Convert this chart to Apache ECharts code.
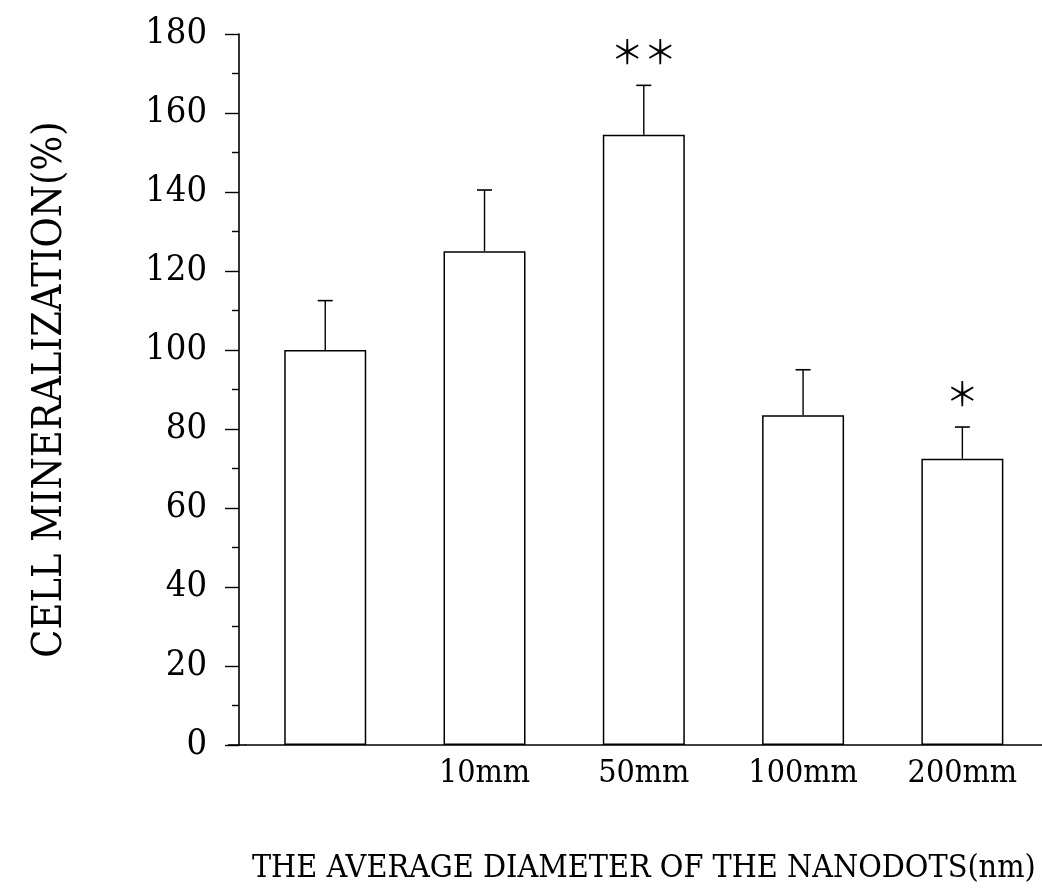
<!DOCTYPE html>
<html><head><meta charset="utf-8">
<script src="https://cdn.jsdelivr.net/npm/echarts@6/dist/echarts.min.js"></script>
<style>html,body{margin:0;padding:0;background:#fff}#c{width:1042px;height:895px}</style>
</head><body><div id="c"></div>
<script>
var categories = ['', '10mm', '50mm', '100mm', '200mm'];
var means = [100, 125, 154.5, 83.5, 72.5];
var sds = [12.5, 15.5, 12.5, 11.5, 8];
var sig = ['', '', '**', '', '*'];
var yTicks = [0, 20, 40, 60, 80, 100, 120, 140, 160, 180];

var FONT = '"DejaVu Serif Condensed", "DejaVu Serif", serif';
var chart = echarts.init(document.getElementById('c'), null, {renderer: 'canvas'});
var errData = means.map(function (m, i) { return [i, m, m + sds[i], sig[i]]; });

chart.setOption({
  animation: false,
  backgroundColor: '#fff',
  grid: {left: 245.6, top: 34, width: 804, bottom: 150},
  xAxis: {
    type: 'category', data: categories,
    axisLine: {lineStyle: {color: '#000', width: 1.6}},
    axisTick: {show: false},
    axisLabel: {color: '#000', fontFamily: FONT, fontSize: 32, margin: 13},
    name: 'THE AVERAGE DIAMETER OF THE NANODOTS(nm)',
    nameLocation: 'middle', nameGap: 108,
    nameTextStyle: {color: '#000', fontFamily: FONT, fontSize: 32}
  },
  yAxis: {
    type: 'value', min: yTicks[0], max: yTicks[yTicks.length - 1], interval: 20,
    offset: 6.6,
    axisLine: {show: true, lineStyle: {color: '#000', width: 1.6}},
    axisTick: {show: true, length: 14, lineStyle: {color: '#000', width: 1.4}},
    minorTick: {show: true, splitNumber: 2, length: 7, lineStyle: {color: '#000', width: 1.4}},
    splitLine: {show: false},
    axisLabel: {color: '#000', fontFamily: FONT, fontSize: 36, margin: 32},
    name: 'CELL MINERALIZATION(%)',
    nameLocation: 'middle', nameGap: 168,
    nameTextStyle: {color: '#000', fontFamily: FONT, fontSize: 41}
  },
  graphic: [{type: 'line', shape: {x1: 228, y1: 745, x2: 246, y2: 745}, style: {stroke: '#000', lineWidth: 1.6}}],
  series: [{
    type: 'bar', data: means, barWidth: 82,
    itemStyle: {color: '#fff', borderColor: '#000', borderWidth: 1.5}
  }, {
    type: 'custom', data: errData,
    renderItem: function (params, api) {
      var i = api.value(0);
      var top = api.coord([i, api.value(2)]);
      var base = api.coord([i, api.value(1)]);
      var children = [
        {type: 'line', shape: {x1: base[0], y1: base[1], x2: top[0], y2: top[1]}, style: {stroke: '#000', lineWidth: 1.4}},
        {type: 'line', shape: {x1: top[0] - 7.5, y1: top[1], x2: top[0] + 7.5, y2: top[1]}, style: {stroke: '#000', lineWidth: 1.6}}
      ];
      var s = sig[params.dataIndex];
      if (s) {
        children.push({type: 'text', style: {
          text: s.replace(/\*/g, '＊'), x: top[0], y: top[1] - 34,
          align: 'center', verticalAlign: 'middle',
          font: '33px "Noto Sans CJK JP"', fill: '#000'
        }});
      }
      return {type: 'group', children: children};
    }
  }]
});
</script></body></html>
